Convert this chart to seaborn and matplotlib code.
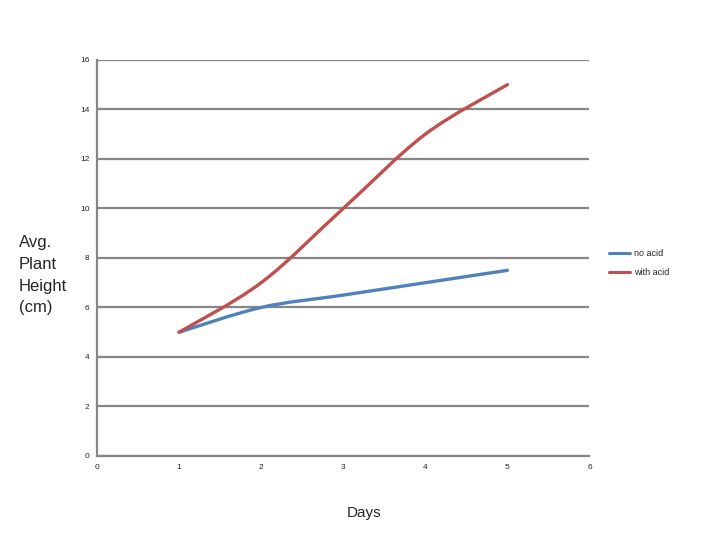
import numpy as np
import pandas as pd
import matplotlib
matplotlib.use('Agg')
import matplotlib.pyplot as plt
from matplotlib.path import Path
from matplotlib.patches import PathPatch
from matplotlib.lines import Line2D
import seaborn as sns

# data
days = [1, 2, 3, 4, 5]
no_acid = [5, 6, 6.5, 7, 7.5]
with_acid = [5, 7, 10, 13, 15]
series_names = ['no acid', 'with acid']
colors = ['#4F81BD', '#C0504D']

df = pd.DataFrame({'Days': days * 2,
                   'Height': no_acid + with_acid,
                   'Series': [series_names[0]] * 5 + [series_names[1]] * 5})

sns.set_style('white')
plt.rcParams['font.family'] = ['Liberation Sans', 'DejaVu Sans']

fig = plt.figure(figsize=(7.2, 5.4), dpi=100)
ax = fig.add_axes([0.1347, 0.1556, 0.684, 0.7334])


def smooth_path(xs, ys):
    # excel-style smoothed line: bezier segments through the data points
    pts = np.column_stack([xs, ys]).astype(float)
    n = len(pts)
    verts = [pts[0]]
    codes = [Path.MOVETO]
    for i in range(n - 1):
        p0 = pts[i - 1] if i > 0 else pts[i]
        p1 = pts[i]
        p2 = pts[i + 1]
        p3 = pts[i + 2] if i + 2 < n else pts[i + 1]
        c1 = p1 + (p2 - p0) / 6
        c2 = p2 - (p3 - p1) / 6
        verts += [c1, c2, p2]
        codes += [Path.CURVE4] * 3
    return Path(verts, codes)


handles = []
for name, col in zip(series_names, colors):
    sub = df[df['Series'] == name]
    patch = PathPatch(smooth_path(sub['Days'], sub['Height']), facecolor='none',
                      edgecolor=col, lw=2.4, capstyle='round', zorder=3)
    ax.add_patch(patch)
    handles.append(Line2D([], [], color=col, lw=2.2))

ax.set_xlim(0, 6)
ax.set_ylim(0, 16)
ax.set_xticks(range(0, 7))
ax.set_yticks(range(0, 17, 2))
ax.tick_params(labelsize=6, length=3, width=1, color='#868686', direction='inout', pad=4)
ax.yaxis.grid(True, color='#868686', lw=1.6)
ax.set_axisbelow(True)
for s in ['top', 'right']:
    ax.spines[s].set_visible(False)
for s in ['left', 'bottom']:
    ax.spines[s].set_color('#868686')
    ax.spines[s].set_linewidth(1.6)

fig.text(0.506, 0.05, 'Days', fontsize=11, ha='center', va='center')
fig.text(0.026, 0.49, 'Avg.\nPlant\nHeight\n(cm)', fontsize=12, ha='left', va='center',
         linespacing=1.55)

leg = ax.legend(handles, series_names, loc='center left', bbox_to_anchor=(1.01, 0.488),
                frameon=False, fontsize=6.5, handlelength=2.4, handletextpad=0.35,
                labelspacing=1.1, borderaxespad=1.2)

fig.savefig('out.png', dpi=100)
